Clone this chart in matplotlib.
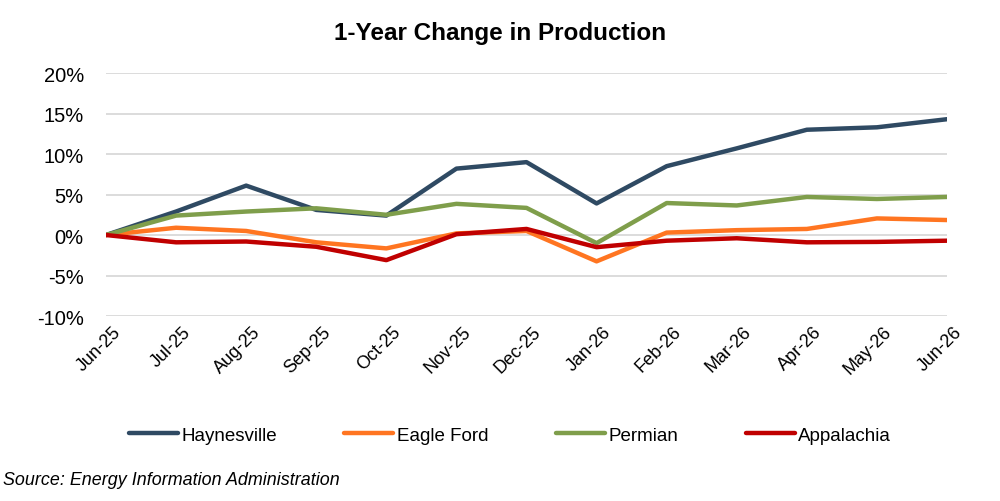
import matplotlib
matplotlib.use("Agg")
import matplotlib.pyplot as plt
from matplotlib.ticker import FuncFormatter
from matplotlib.transforms import ScaledTranslation

months = ["Jun-25", "Jul-25", "Aug-25", "Sep-25", "Oct-25", "Nov-25", "Dec-25",
          "Jan-26", "Feb-26", "Mar-26", "Apr-26", "May-26", "Jun-26"]
haynesville = [0.0, 2.9, 6.1, 3.1, 2.4, 8.2, 9.0, 3.9, 8.5, 10.7, 13.0, 13.3, 14.3]
eagle_ford = [0.0, 0.9, 0.5, -0.9, -1.65, 0.2, 0.5, -3.25, 0.3, 0.6, 0.75, 2.05, 1.85]
permian = [0.0, 2.4, 2.9, 3.3, 2.5, 3.85, 3.35, -1.0, 3.95, 3.65, 4.7, 4.45, 4.7]
appalachia = [0.0, -0.9, -0.8, -1.45, -3.1, 0.1, 0.75, -1.5, -0.7, -0.4, -0.9, -0.85, -0.7]
yticks = [-10, -5, 0, 5, 10, 15, 20]

plt.rcParams['font.family'] = ['Liberation Sans', 'DejaVu Sans']

fig = plt.figure(figsize=(10, 5.02), dpi=100)
ax = fig.add_axes([0.106, 0.3685, 0.841, 0.484])

x = list(range(len(months)))
series = [("Haynesville", haynesville, "#2F4A63"),
          ("Eagle Ford", eagle_ford, "#FF7521"),
          ("Permian", permian, "#7F9E4B"),
          ("Appalachia", appalachia, "#C00000")]
for name, vals, col in series:
    ax.plot(x, vals, color=col, lw=3.2, label=name, solid_capstyle='round', zorder=3)

ax.set_xlim(0, len(months) - 1)
ax.set_ylim(-10, 20)
ax.set_yticks(yticks)
ax.yaxis.set_major_formatter(FuncFormatter(lambda v, p: f"{v:.0f}%"))
ax.grid(axis='y', color='#D9D9D9', lw=1.3, zorder=0)
ax.set_axisbelow(True)
for s in ax.spines.values():
    s.set_visible(False)
ax.tick_params(axis='both', length=0)
ax.tick_params(axis='y', labelsize=14.5, pad=16)
ax.set_xticks(x)
ax.set_xticklabels(months, rotation=45, ha='right', rotation_mode='anchor', fontsize=13)
ax.tick_params(axis='x', pad=5)
offset = ScaledTranslation(6 / 100, 0, fig.dpi_scale_trans)
for lbl in ax.get_xticklabels():
    lbl.set_transform(lbl.get_transform() + offset)

fig.text(0.5, 0.934, "1-Year Change in Production", ha='center', va='center',
         fontsize=17.5, fontweight='bold')

leg = fig.legend(loc='center', bbox_to_anchor=(0.51, 0.131), ncol=4, frameon=False,
                 fontsize=13.5, handlelength=2.6, handletextpad=0.2, columnspacing=3.6)

fig.text(0.003, 0.042, "Source: Energy Information Administration", ha='left', va='center',
         fontsize=12.9, style='italic')

fig.savefig("out.png", dpi=100)
